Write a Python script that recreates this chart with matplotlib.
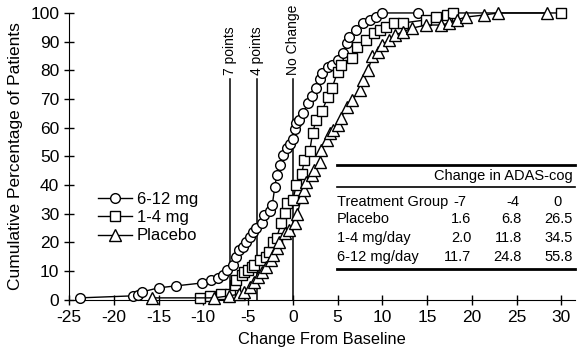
import matplotlib
matplotlib.use("Agg")
import matplotlib.pyplot as plt

plt.rcParams['font.family'] = ['Liberation Sans', 'DejaVu Sans']
plt.rcParams['axes.unicode_minus'] = False

hi_x = [-23.8, -17.9, -17.3, -16.8, -15.0, -13.0, -10.1, -9.1, -8.4, -7.8, -7.3, -6.7,
        -6.3, -6.0, -5.6, -5.2, -4.8, -4.5, -4.1, -3.4, -3.2, -2.6, -2.3, -2.0, -1.8,
        -1.4, -1.1, -0.7, -0.3, 0.0, 0.2, 0.4, 0.7, 1.1, 1.7, 2.1, 2.6, 3.0, 3.3, 3.9,
        4.4, 5.0, 5.6, 6.1, 6.3, 7.1, 7.8, 8.6, 9.3, 10.0, 14.0]
hi_y = [0.7, 1.4, 1.7, 2.8, 4.2, 4.9, 5.9, 7.0, 7.7, 8.7, 10.5, 12.2,
        15.0, 17.4, 18.5, 20.2, 22.0, 23.7, 25.0, 26.7, 29.6, 31.0, 33.0, 39.5, 43.5,
        47.0, 50.5, 53.0, 54.5, 56.0, 59.5, 61.6, 62.7, 65.0, 68.5, 71.0, 74.0, 77.0, 79.0, 81.0,
        82.0, 83.6, 86.0, 89.5, 91.7, 94.0, 96.5, 97.5, 98.6, 100, 100]

lo_x = [-10.4, -9.3, -8.0, -7.0, -6.5, -6.3, -5.7, -5.4, -5.0, -4.6, -4.3, -3.7, -3.0,
        -2.7, -2.2, -1.8, -1.3, -0.9, -0.6, 0.0, 0.4, 1.0, 1.3, 1.9, 2.2, 2.6, 3.3, 3.9,
        4.4, 5.0, 5.4, 6.6, 7.2, 8.2, 9.1, 9.7, 10.4, 11.3, 12.3, 14.9, 16.0, 17.2, 17.9, 30.0]
lo_y = [0.7, 1.4, 2.0, 2.0, 5.2, 7.0, 8.7, 9.8, 10.5, 11.6, 12.2, 14.0, 15.0,
        16.7, 20.0, 21.6, 26.8, 30.3, 33.8, 34.8, 40.0, 44.0, 48.8, 52.0, 58.0, 62.7, 66.0, 70.7,
        74.0, 79.4, 82.0, 84.3, 88.0, 90.6, 93.0, 94.0, 95.0, 96.5, 96.5, 97.6, 98.6, 99.3, 100, 100]

pl_x = [-15.7, -8.8, -7.1, -6.0, -5.4, -4.8, -4.3, -3.9, -3.4, -3.0, -2.4, -2.2, -1.8,
        -1.5, -0.9, -0.4, 0.2, 0.5, 1.0, 1.3, 1.5, 2.1, 2.4, 3.0, 3.2, 3.8, 4.1, 4.5, 5.0,
        5.4, 6.0, 6.6, 7.5, 7.8, 8.4, 8.9, 9.5, 10.0, 10.8, 11.4, 12.3, 13.3, 14.9, 16.6,
        17.5, 18.3, 19.4, 21.4, 22.9, 28.4]
pl_y = [0.7, 0.7, 1.4, 2.0, 2.8, 4.5, 6.3, 8.0, 9.8, 11.6, 14.0, 15.7, 18.0,
        20.2, 23.3, 24.4, 26.8, 30.0, 36.0, 38.3, 41.0, 43.5, 45.3, 48.0, 52.3, 55.7, 58.0, 59.2, 61.0,
        63.4, 67.3, 69.7, 73.0, 76.7, 80.0, 85.0, 86.5, 89.0, 90.6, 92.3, 93.4, 94.7, 95.8, 95.8,
        96.5, 97.6, 98.6, 99.3, 100, 100]

cut_x = [-7, -4, 0]
cut_names = ['7 points', '4 points', 'No Change']

tbl_head = ['-7', '-4', '0']
tbl_groups = ['Placebo', '1-4 mg/day', '6-12 mg/day']
tbl_vals = [['1.6', '6.8', '26.5'],
            ['2.0', '11.8', '34.5'],
            ['11.7', '24.8', '55.8']]

fig = plt.figure(figsize=(5.8, 3.6), dpi=100)
ax = fig.add_axes([0.119, 0.167, 0.872, 0.797])

# reference lines
for x, name in zip(cut_x, cut_names):
    ax.plot([x, x], [0, 77], color='black', lw=1.1)
    ax.text(x, 78.5, name, rotation=90, ha='center', va='bottom', fontsize=10)

mk = dict(color='black', lw=1, markerfacecolor='white', markeredgecolor='black',
          markeredgewidth=1, clip_on=False, zorder=3)
ax.plot(hi_x, hi_y, marker='o', ms=7, label='6-12 mg', **mk)
ax.plot(lo_x, lo_y, marker='s', ms=7, label='1-4 mg', **mk)
ax.plot(pl_x, pl_y, marker='^', ms=8, label='Placebo', **mk)

ax.set_xlim(-25, 31.5)
ax.set_ylim(0, 100)
ax.set_xticks(range(-25, 31, 5))
ax.set_yticks(range(0, 101, 10))
ax.tick_params(direction='inout', length=7, width=1, labelsize=12.5)
ax.spines['top'].set_visible(False)
ax.spines['right'].set_visible(False)
ax.set_xlabel('Change From Baseline', fontsize=11.8, labelpad=5)
ax.set_ylabel('Cumulative Percentage of Patients', fontsize=12.5, labelpad=5)

ax.legend(loc='upper left', bbox_to_anchor=(0.045, 0.40), frameon=False, fontsize=12,
          handlelength=2.0, handletextpad=0.3, labelspacing=0.2, borderaxespad=0)

# summary table
tr = ax.transAxes
ax.plot([0.530, 1.0], [0.470, 0.470], color='black', lw=2, transform=tr, clip_on=False)
ax.plot([0.530, 1.0], [0.394, 0.394], color='black', lw=1.2, transform=tr, clip_on=False)
ax.plot([0.530, 1.0], [0.108, 0.108], color='black', lw=2, transform=tr, clip_on=False)
ax.text(0.996, 0.432, 'Change in ADAS-cog', transform=tr, ha='right', va='center', fontsize=10.5)
ax.text(0.530, 0.341, 'Treatment Group', transform=tr, ha='left', va='center', fontsize=10.5)
head_x = [0.773, 0.877, 0.966]
val_x = [0.796, 0.895, 0.996]
row_y = [0.282, 0.216, 0.150]
for hx, h in zip(head_x, tbl_head):
    ax.text(hx, 0.341, h, transform=tr, ha='center', va='center', fontsize=10.5)
for ry, g, vals in zip(row_y, tbl_groups, tbl_vals):
    ax.text(0.530, ry, g, transform=tr, ha='left', va='center', fontsize=10.5)
    for vx, v in zip(val_x, vals):
        ax.text(vx, ry, v, transform=tr, ha='right', va='center', fontsize=10.5)

fig.savefig('out.png', dpi=100)
